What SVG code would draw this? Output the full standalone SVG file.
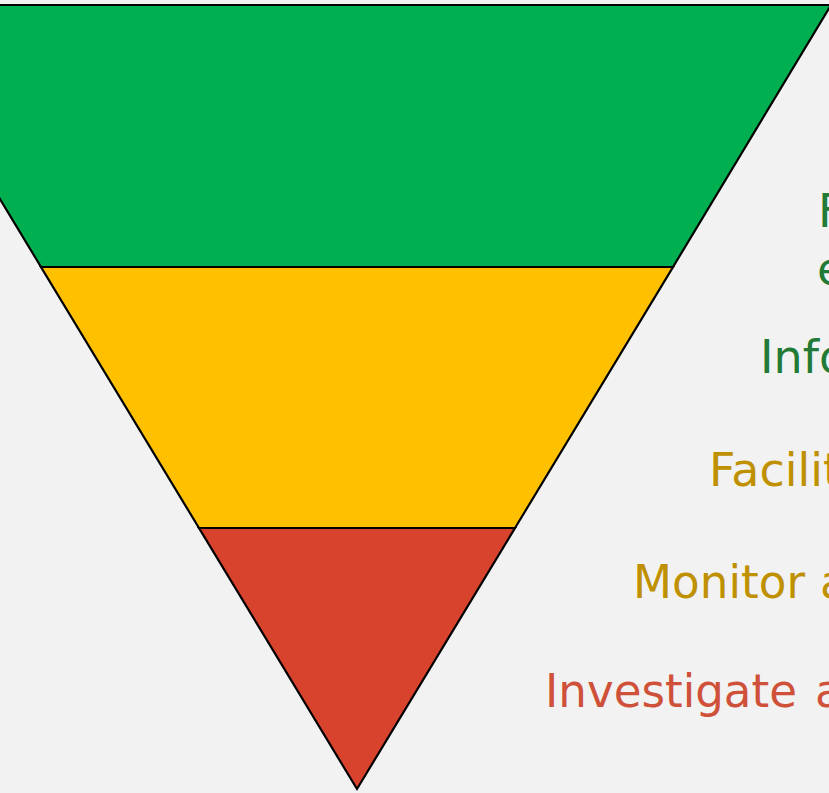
<svg xmlns="http://www.w3.org/2000/svg" width="829" height="793" viewBox="0 0 829 793">
  <style>
    .band { stroke: #000; stroke-width: 2.2; stroke-linejoin: miter; }
    .lbl { font-family: "DejaVu Sans", "Liberation Sans", sans-serif; font-size: 46px; }
    .g { fill: #217a35; }
    .y { fill: #bf9000; }
    .r { fill: #cf5139; }
  </style>
  <rect width="829" height="793" fill="#f2f2f2"/>

  <!-- inverted funnel, three bands -->
  <g id="band-top">
    <polygon class="band" fill="#00b050" points="-117,5 831,5 673,267 41,267"/>
  </g>
  <g id="band-middle">
    <polygon class="band" fill="#ffc000" points="41,267 673,267 515,528 199,528"/>
  </g>
  <g id="band-bottom">
    <polygon class="band" fill="#d8432e" points="199,528 515,528 357,789"/>
  </g>

  <g id="connectors"></g>

  <!-- labels on the right -->
  <g id="label-1">
    <text class="lbl g" x="818" y="227">F</text>
    <text class="lbl g" x="817" y="285">e</text>
  </g>
  <g id="label-2">
    <text class="lbl g" x="760" y="373">Info</text>
  </g>
  <g id="label-3">
    <text class="lbl y" x="709" y="486">Facilit</text>
  </g>
  <g id="label-4">
    <text class="lbl y" y="598"><tspan x="633" textLength="172" lengthAdjust="spacingAndGlyphs">Monitor</tspan><tspan x="820">a</tspan></text>
  </g>
  <g id="label-5">
    <text class="lbl r" y="707"><tspan x="545" textLength="252" lengthAdjust="spacingAndGlyphs">Investigate</tspan><tspan x="815">a</tspan></text>
  </g>
</svg>
